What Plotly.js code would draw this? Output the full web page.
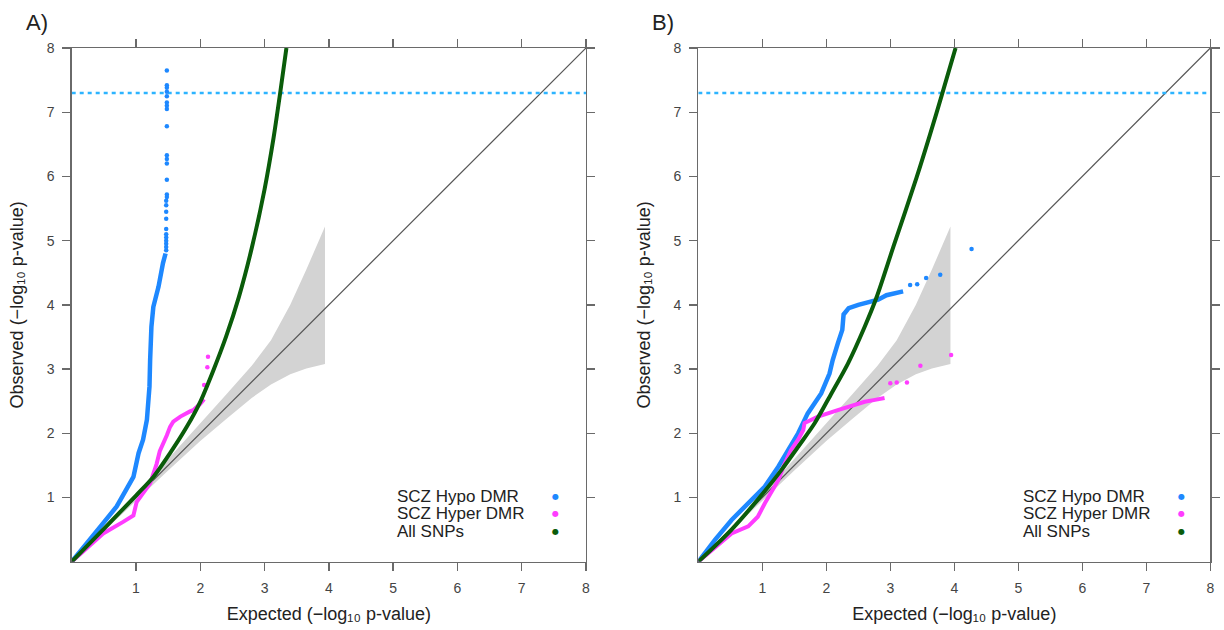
<!DOCTYPE html>
<html>
<head>
<meta charset="utf-8">
<script src="https://cdn.plot.ly/plotly-3.0.1.min.js"></script>
<style>html,body{margin:0;padding:0;background:#fff;}#chart{width:1224px;height:630px;}</style>
</head>
<body>
<div id="chart"></div>
<script>
// ---------- data ----------
const AXIS_MAX = 8;
const tickVals = [1, 2, 3, 4, 5, 6, 7, 8];
const GWS_THRESHOLD = -Math.log10(5e-8); // genome-wide significance line
const seriesNames = ["SCZ Hypo DMR", "SCZ Hyper DMR", "All SNPs"];
const xTitle = "Expected (\u2212log\u2081\u2080 p-value)";
const yTitle = "Observed (\u2212log\u2081\u2080 p-value)";

// 95% band around null expectation
const bandX     = [0, 0.5, 1.0, 1.5, 2.0, 2.4, 2.8, 3.1, 3.4, 3.65, 3.94];
const bandUpper = [0, 0.52, 1.05, 1.6, 2.15, 2.6, 3.05, 3.45, 4.0, 4.55, 5.22];
const bandLower = [0, 0.48, 0.95, 1.42, 1.88, 2.22, 2.55, 2.76, 2.92, 3.01, 3.08];

// Panel A
const aHypoX = [0, 0.29, 0.49, 0.70, 0.88, 0.96, 1.04, 1.11, 1.17, 1.21, 1.22, 1.24, 1.27, 1.35, 1.42, 1.46];
const aHypoY = [0, 0.34, 0.60, 0.86, 1.17, 1.32, 1.69, 1.90, 2.21, 2.73, 3.14, 3.66, 3.97, 4.28, 4.65, 4.80];
const aHypoTailX = [1.47, 1.47, 1.47, 1.47, 1.47, 1.47, 1.47, 1.47, 1.47, 1.47, 1.47, 1.48, 1.48, 1.48, 1.48, 1.48, 1.48, 1.48, 1.48, 1.48, 1.48, 1.48, 1.48, 1.48, 1.48, 1.48];
const aHypoTailY = [4.85, 4.90, 4.95, 5.00, 5.05, 5.10, 5.18, 5.34, 5.45, 5.55, 5.62, 5.68, 5.72, 5.95, 6.20, 6.27, 6.33, 6.78, 7.05, 7.10, 7.15, 7.25, 7.32, 7.38, 7.42, 7.65];
const aHyperX = [0, 0.29, 0.49, 0.80, 0.96, 1.01, 1.11, 1.17, 1.22, 1.32, 1.37, 1.48, 1.53, 1.58, 1.69, 1.84, 1.89, 2.0, 2.06];
const aHyperY = [0, 0.26, 0.44, 0.62, 0.72, 0.93, 1.07, 1.17, 1.22, 1.52, 1.72, 1.97, 2.10, 2.18, 2.26, 2.34, 2.36, 2.46, 2.53];
const aHyperTailX = [2.06, 2.11, 2.12];
const aHyperTailY = [2.75, 3.03, 3.19];
const aSnpX = [0, 0.5, 1.0, 1.27, 1.53, 1.79, 2.0, 2.2, 2.4, 2.6, 2.8, 3.0, 3.14, 3.24, 3.34];
const aSnpY = [0, 0.51, 1.03, 1.32, 1.69, 2.10, 2.49, 2.97, 3.50, 4.12, 4.88, 5.80, 6.60, 7.28, 8.0];

// Panel B
const bHypoX = [0, 0.26, 0.52, 0.78, 1.04, 1.25, 1.40, 1.56, 1.71, 1.92, 2.05, 2.10, 2.18, 2.25, 2.27, 2.35, 2.50, 2.81, 2.94, 3.10, 3.20];
const bHypoY = [0, 0.34, 0.65, 0.91, 1.17, 1.48, 1.74, 2.00, 2.31, 2.62, 2.93, 3.14, 3.40, 3.61, 3.85, 3.95, 4.00, 4.08, 4.15, 4.19, 4.21];
const bHypoTailX = [3.31, 3.42, 3.56, 3.78, 4.27];
const bHypoTailY = [4.31, 4.32, 4.42, 4.47, 4.87];
const bHyperX = [0, 0.26, 0.52, 0.78, 0.93, 1.04, 1.14, 1.25, 1.35, 1.45, 1.56, 1.64, 1.66, 1.87, 2.18, 2.44, 2.60, 2.76, 2.91];
const bHyperY = [0, 0.23, 0.44, 0.55, 0.70, 0.91, 1.07, 1.27, 1.53, 1.74, 1.90, 2.05, 2.16, 2.26, 2.36, 2.44, 2.49, 2.52, 2.55];
const bHyperTailX = [3.00, 3.10, 3.26, 3.47, 3.95];
const bHyperTailY = [2.78, 2.79, 2.79, 3.05, 3.22];
const bSnpX = [0, 0.52, 1.04, 1.30, 1.56, 1.82, 2.08, 2.34, 2.60, 2.79, 3.05, 3.41, 3.62, 3.80, 4.02];
const bSnpY = [0, 0.50, 1.10, 1.43, 1.79, 2.16, 2.62, 3.09, 3.66, 4.13, 4.91, 5.98, 6.65, 7.25, 8.0];

// ---------- styles ----------
const C_HYPO = "#1E88FF", C_HYPER = "#FF3CFF", C_SNP = "#0A5C0A";
const C_BAND = "#D3D3D3", C_DIAG = "#555555", C_GWS = "#2DB4FF";
const FONT = "Liberation Sans, Arial, sans-serif";

function panelTraces(xa, ya, d) {
  const polyX = bandX.concat(bandX.slice().reverse());
  const polyY = bandUpper.concat(bandLower.slice().reverse());
  const common = {xaxis: xa, yaxis: ya, showlegend: false, hoverinfo: "skip"};
  return [
    Object.assign({type: "scatter", mode: "lines", x: polyX, y: polyY, fill: "toself",
      fillcolor: C_BAND, line: {width: 0, color: C_BAND}}, common),
    Object.assign({type: "scatter", mode: "lines", x: [0, AXIS_MAX], y: [0, AXIS_MAX],
      line: {color: C_DIAG, width: 1.2}}, common),
    Object.assign({type: "scatter", mode: "lines", x: [0, AXIS_MAX], y: [GWS_THRESHOLD, GWS_THRESHOLD],
      line: {color: C_GWS, width: 2.5, dash: "4px,4px"}}, common),
    Object.assign({type: "scatter", mode: "lines", name: seriesNames[0], x: d.hypoX, y: d.hypoY,
      line: {color: C_HYPO, width: 4.5}}, common),
    Object.assign({type: "scatter", mode: "markers", name: seriesNames[0], x: d.hypoTX, y: d.hypoTY,
      marker: {color: C_HYPO, size: 4.5}}, common),
    Object.assign({type: "scatter", mode: "lines", name: seriesNames[1], x: d.hyperX, y: d.hyperY,
      line: {color: C_HYPER, width: 4}}, common),
    Object.assign({type: "scatter", mode: "markers", name: seriesNames[1], x: d.hyperTX, y: d.hyperTY,
      marker: {color: C_HYPER, size: 4.5}}, common),
    Object.assign({type: "scatter", mode: "lines", name: seriesNames[2], x: d.snpX, y: d.snpY,
      line: {color: C_SNP, width: 4, shape: "spline", smoothing: 0.8}}, common)
  ];
}

const traces = [].concat(
  panelTraces("x", "y", {hypoX: aHypoX, hypoY: aHypoY, hypoTX: aHypoTailX, hypoTY: aHypoTailY,
    hyperX: aHyperX, hyperY: aHyperY, hyperTX: aHyperTailX, hyperTY: aHyperTailY, snpX: aSnpX, snpY: aSnpY}),
  panelTraces("x2", "y2", {hypoX: bHypoX, hypoY: bHypoY, hypoTX: bHypoTailX, hypoTY: bHypoTailY,
    hyperX: bHyperX, hyperY: bHyperY, hyperTX: bHyperTailX, hyperTY: bHyperTailY, snpX: bSnpX, snpY: bSnpY})
);

function axis(domain, anchor, title, standoff) {
  return {
    domain: domain, anchor: anchor, range: [0, AXIS_MAX], tickvals: tickVals,
    showgrid: false, zeroline: false, showline: true, mirror: "ticks",
    linecolor: "#6a6a6a", linewidth: 1.3, ticks: "outside", ticklen: 8, tickwidth: 1.3,
    tickcolor: "#6a6a6a", ticklabelstandoff: 5,
    tickfont: {family: FONT, size: 14, color: "#444"}, fixedrange: true,
    title: {text: title, standoff: standoff, font: {family: FONT, size: 18, color: "#222"}}
  };
}

const W = 1224, H = 630;
const px = v => v / W, py = v => 1 - v / H;
const yDom = [py(561.7), py(48)];
const aDom = [px(71.7), px(586)], bDom = [px(698.3), px(1210.3)];

const annotations = [];
function panelText(x0, label) {
  annotations.push({xref: "paper", yref: "paper", x: px(x0 - 35), y: py(23), text: label,
    showarrow: false, xanchor: "center", yanchor: "middle", font: {family: FONT, size: 22, color: "#222"}});
  const rows = [496, 513.5, 531];
  const cols = [C_HYPO, C_HYPER, C_SNP];
  for (let i = 0; i < 3; i++) {
    annotations.push({xref: "paper", yref: "paper", x: px(x0 + 323), y: py(rows[i]), text: seriesNames[i],
      showarrow: false, xanchor: "left", yanchor: "middle", font: {family: FONT, size: 17, color: "#222"}});
    annotations.push({xref: "paper", yref: "paper", x: px(x0 + 483.5), y: py(rows[i]), text: "\u25CF",
      showarrow: false, xanchor: "center", yanchor: "middle", font: {family: "DejaVu Sans", size: 8, color: cols[i]}});
  }
}
panelText(71.7, "A)");
panelText(698.3, "B)");

const layout = {
  width: W, height: H, margin: {l: 0, r: 0, t: 0, b: 0},
  paper_bgcolor: "#fff", plot_bgcolor: "#fff", showlegend: false,
  xaxis: axis(aDom, "y", xTitle, 12), yaxis: axis(yDom, "x", yTitle, 18),
  xaxis2: axis(bDom, "y2", xTitle, 12), yaxis2: axis(yDom, "x2", yTitle, 18),
  annotations: annotations
};

Plotly.newPlot("chart", traces, layout, {staticPlot: true, displayModeBar: false});
</script>
</body>
</html>
